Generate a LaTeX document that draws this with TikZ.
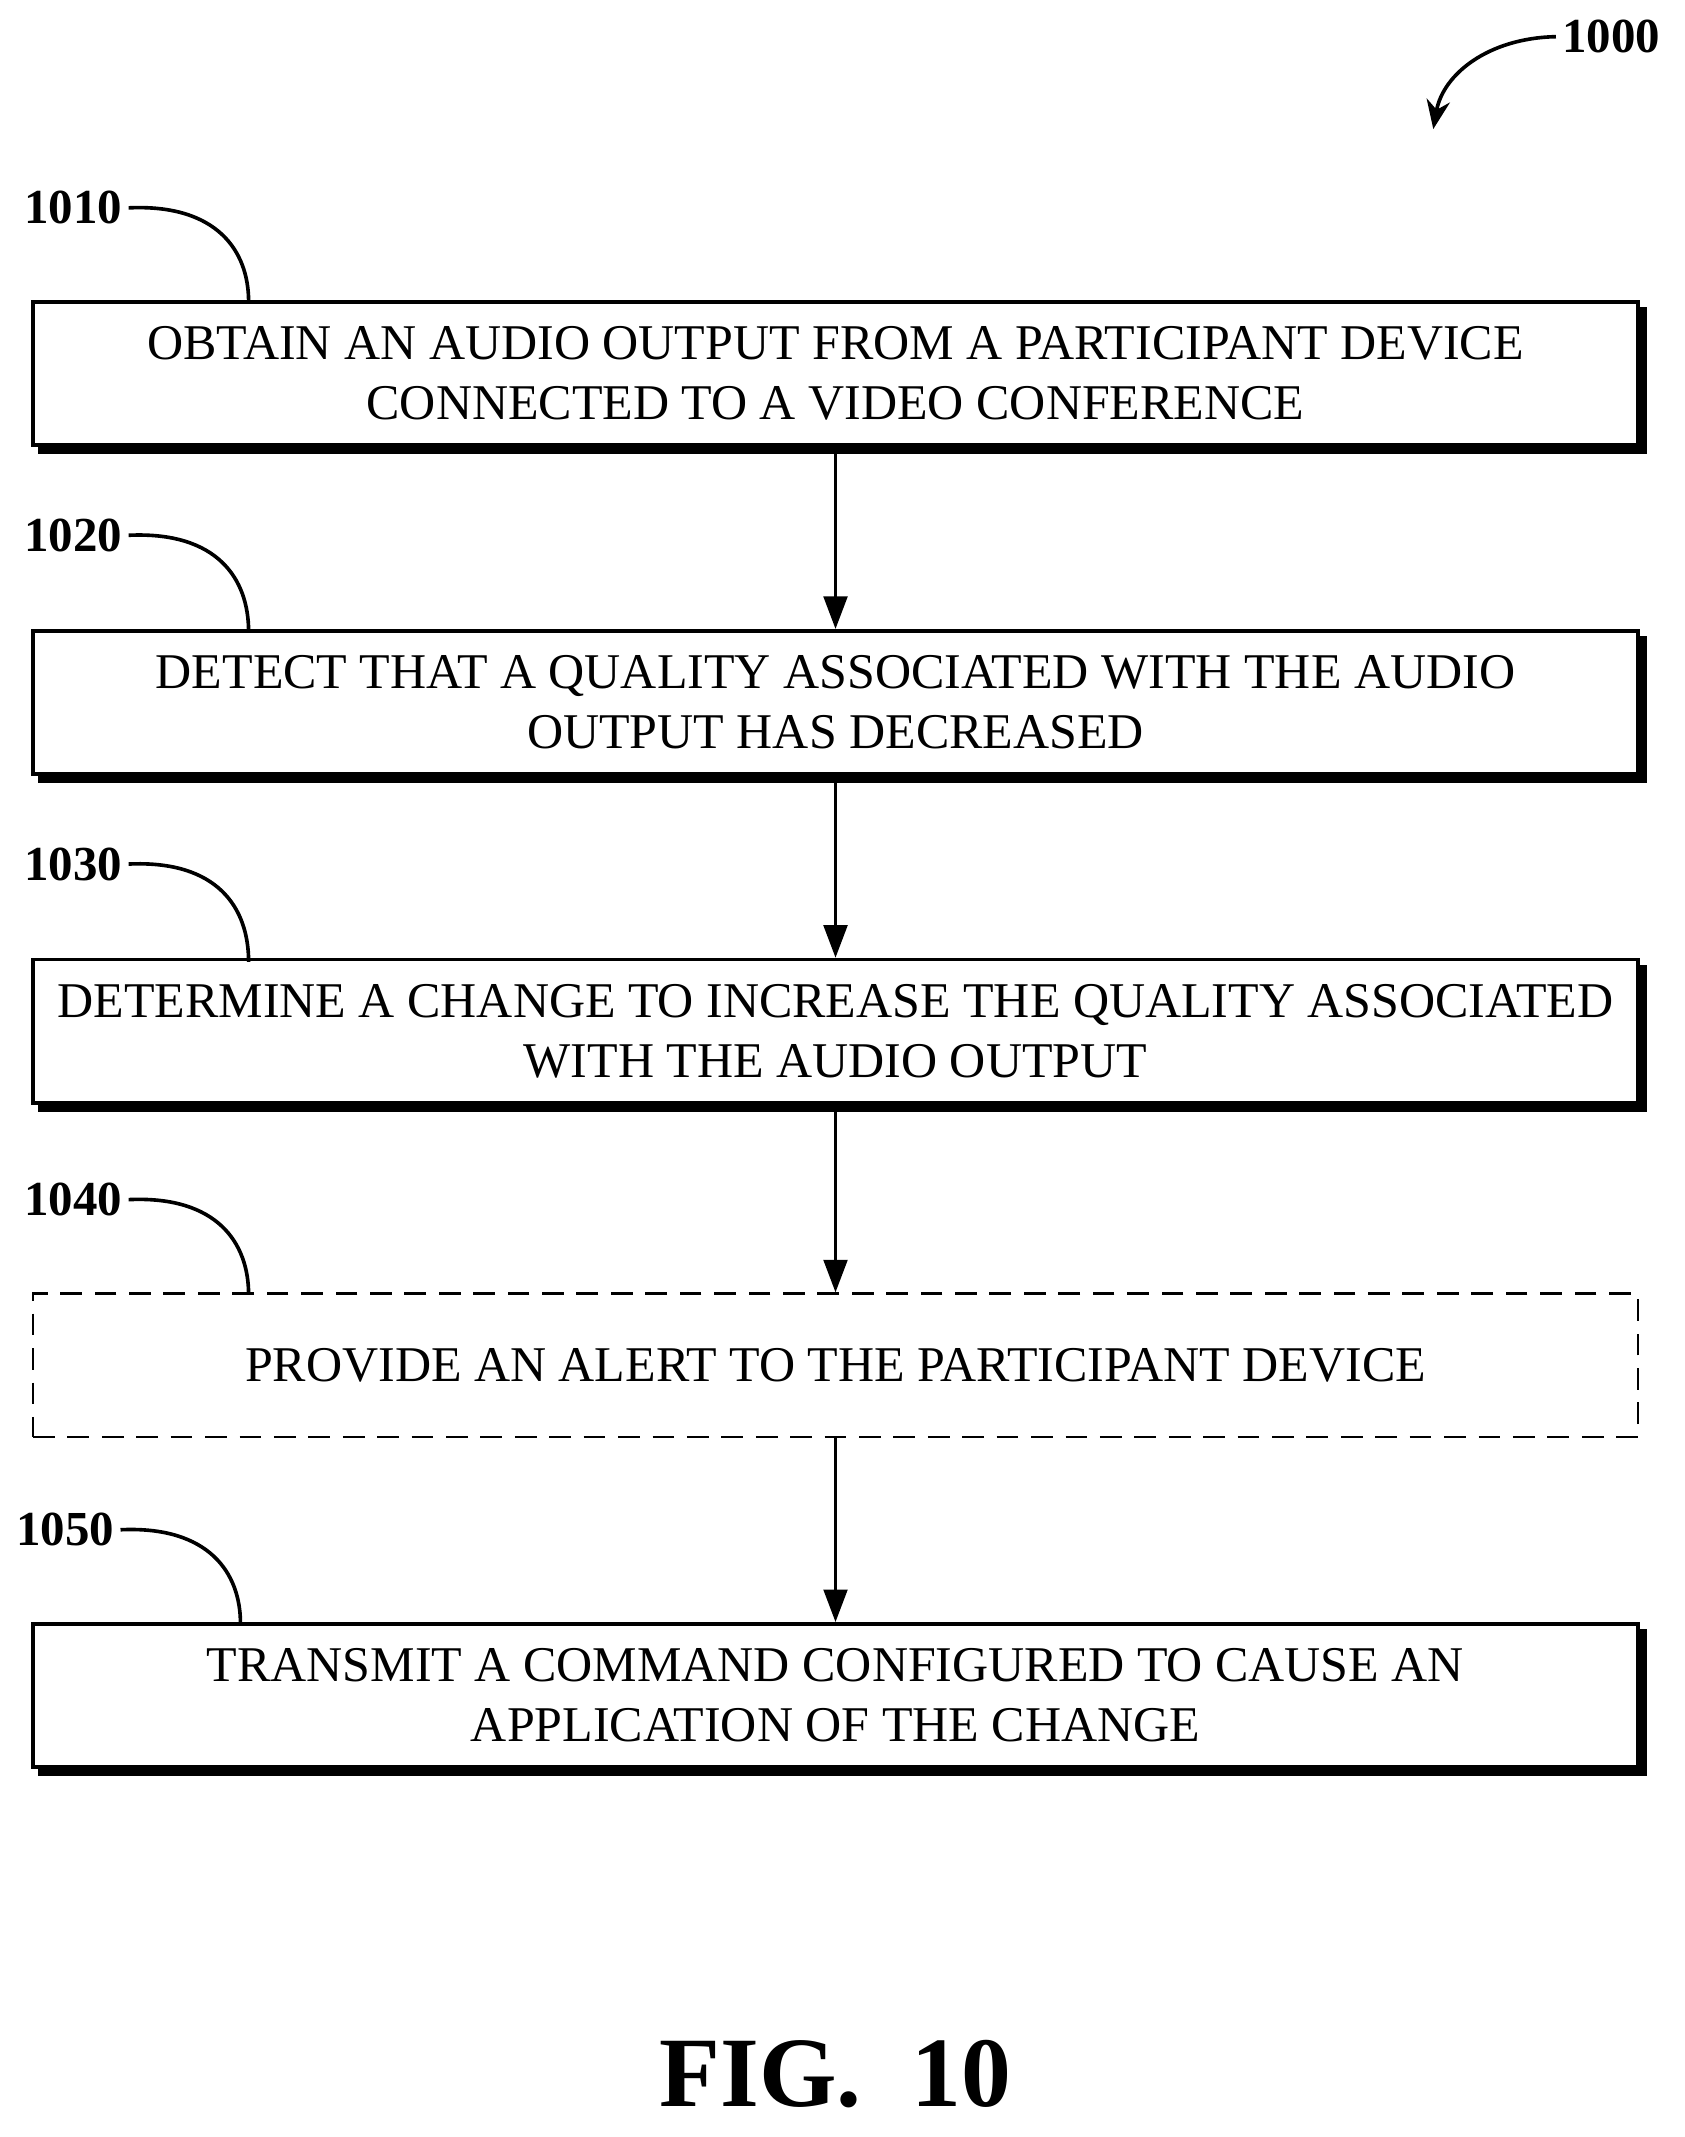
\documentclass[tikz,border=0pt]{standalone}
\usepackage{fontspec}
\setmainfont{Liberation Serif}
\usetikzlibrary{arrows.meta}
\tikzset{
  stepbox/.style={draw,line width=2pt,minimum width=886pt,minimum height=79pt,align=center,inner sep=0pt,
    font=\fontsize{27.6}{33}\selectfont},
  shadowed/.style={stepbox,fill=white,preaction={fill=black,draw,line width=2pt,transform canvas={xshift=4pt,yshift=-4pt}}},
  reflabel/.style={font=\bfseries\fontsize{27}{30}\selectfont},
  flow/.style={-{Triangle[length=18pt,width=13pt]},line width=2pt},
  leader/.style={line width=2pt}
}
\begin{document}
\begin{tikzpicture}[x=0.75pt,y=0.75pt,yscale=-1,xscale=1]
\useasboundingbox (0,0) rectangle (1240,1573);

% Steps
\node [shadowed] (s1010) at (615,275) {OBTAIN AN AUDIO OUTPUT FROM A PARTICIPANT DEVICE\\CONNECTED TO A VIDEO CONFERENCE};
\node [shadowed] (s1020) at (615,517) {DETECT THAT A QUALITY ASSOCIATED WITH THE AUDIO\\OUTPUT HAS DECREASED};
\node [shadowed] (s1030) at (615,759) {DETERMINE A CHANGE TO INCREASE THE QUALITY ASSOCIATED\\WITH THE AUDIO OUTPUT};
\node [stepbox,dashed,line width=1.5pt,dash pattern=on 12pt off 7pt] (s1040) at (615,1005) {PROVIDE AN ALERT TO THE PARTICIPANT DEVICE};
\node [shadowed] (s1050) at (615,1248) {TRANSMIT A COMMAND CONFIGURED TO CAUSE AN\\APPLICATION OF THE CHANGE};

% Connectors
\draw [flow] (s1010) -- (s1020);
\draw [flow] (s1020) -- (s1030);
\draw [flow] (s1030) -- (s1040);
\draw [flow] (s1040) -- (s1050);

% Reference labels
\node [reflabel] (l1010) at (54,153) {1010};
\node [reflabel] (l1020) at (54,394) {1020};
\node [reflabel] (l1030) at (54,636) {1030};
\node [reflabel] (l1040) at (54,883) {1040};
\node [reflabel] (l1050) at (48,1126) {1050};
\draw [leader] (l1010.east) .. controls (160,150) and (183,185) .. (183,222);
\draw [leader] (l1020.east) .. controls (160,391) and (183,426) .. (183,465);
\draw [leader] (l1030.east) .. controls (160,633) and (183,668) .. (183,708);
\draw [leader] (l1040.east) .. controls (160,880) and (183,915) .. (183,953);
\draw [leader] (l1050.east) .. controls (154,1123) and (177,1158) .. (177,1195);

\node [reflabel] (l1000) at (1186,27) {1000};
\draw [leader,-{Stealth[length=16pt,width=13pt]}] (l1000.west) .. controls (1095,28) and (1062,55) .. (1055,95);

\node [font=\bfseries\fontsize{55}{60}\selectfont] (fig) at (615,1527) {FIG.\ \ 10};
\end{tikzpicture}
\end{document}
